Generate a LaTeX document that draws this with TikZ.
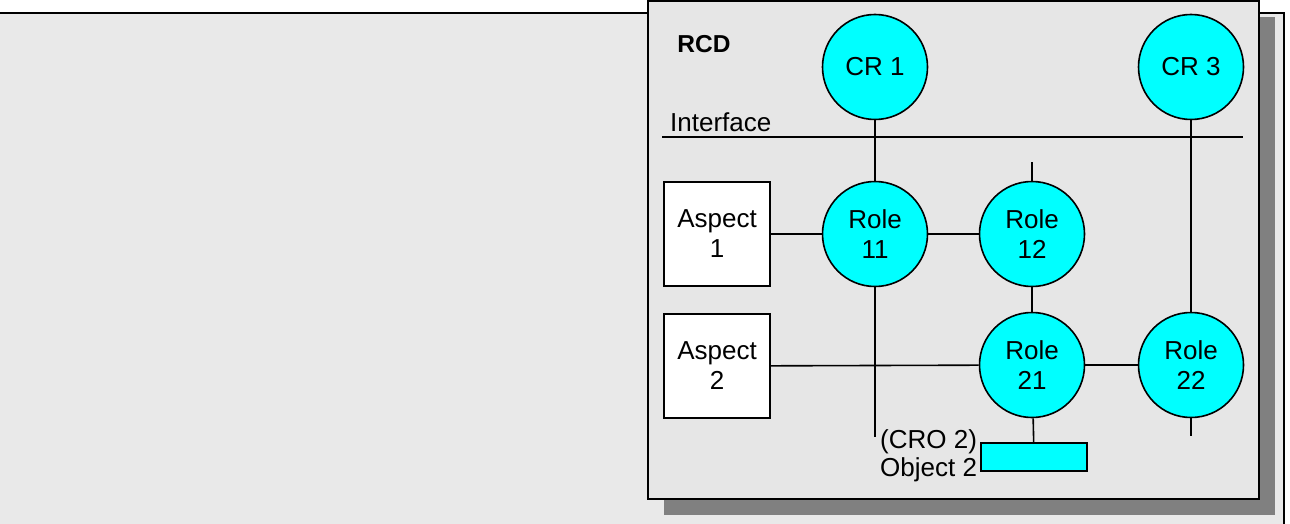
\documentclass[tikz,border=0pt]{standalone}
\usepackage{fontspec}
\setmainfont{Liberation Sans}
\definecolor{outerbg}{RGB}{233,233,233}
\definecolor{rcdbg}{RGB}{230,230,230}
\definecolor{shadowgray}{RGB}{128,128,128}
\definecolor{rolecyan}{RGB}{0,255,255}
\newcommand{\lbl}{\fontsize{26}{30}\selectfont}
\begin{document}
\begin{tikzpicture}[x=1pt,y=-1pt,
  frame/.style={draw=black,line width=2pt},
  role/.style={circle,draw=black,line width=1.6pt,fill=rolecyan,
    minimum size=105pt,inner sep=0pt,align=center,font=\lbl},
  aspect/.style={rectangle,draw=black,line width=1.6pt,fill=white,
    minimum width=106pt,minimum height=104pt,inner sep=0pt,align=center,font=\lbl},
  objbox/.style={rectangle,draw=black,line width=1.6pt,fill=rolecyan,
    minimum width=106pt,minimum height=28pt,inner sep=0pt},
  link/.style={draw=black,line width=1.6pt}]

\useasboundingbox (0,0) rectangle (1290,524);

% background panel
\fill[outerbg] (-5,13) rectangle (1284,540);
\draw[frame] (-5,13) -- (1284,13) -- (1284,540);

% RCD box with drop shadow
\fill[shadowgray] (664,17) rectangle (1275,515);
\draw[frame,fill=rcdbg] (648,1) rectangle (1259,499);

\node[font=\bfseries\fontsize{24.5}{30}\selectfont,inner sep=0pt] (rcd) at (704,44) {RCD};

% interface line
\node[font=\lbl,anchor=west,inner sep=0pt] (iface) at (670,122) {Interface};
\coordinate (ifL) at (662,137);
\coordinate (ifR) at (1243,137);
\draw[link] (ifL) -- (ifR);

% component roles
\node[role] (cr1) at (875,67) {CR 1};
\node[role] (cr3) at (1191,67) {CR 3};

% roles
\node[role] (role11) at (875,234) {Role\\11};
\node[role] (role12) at (1032,234) {Role\\12};
\node[role] (role21) at (1032,365) {Role\\21};
\node[role] (role22) at (1191,365) {Role\\22};

% aspects
\node[aspect] (asp1) at (717,234) {Aspect\\1};
\node[aspect] (asp2) at (717,366) {Aspect\\2};

% object
\node[objbox] (obj) at (1034,457) {};
\node[font=\fontsize{26}{28}\selectfont,align=left,anchor=west,inner sep=0pt] (objlbl) at (880,456) {(CRO 2)\\Object 2};

% free line ends
\coordinate (r12top) at (1032,162);
\coordinate (r11end) at (875,437);
\coordinate (r22end) at (1191,436);

% connectors
\draw[link] (cr1) -- (role11);
\draw[link] (cr3) -- (role22);
\draw[link] (asp1) -- (role11);
\draw[link] (role11) -- (role12);
\draw[link] (role12) -- (role21);
\draw[link] (asp2) -- (role21);
\draw[link] (role21) -- (role22);
\draw[link] (role21) -- (obj);
\draw[link] (r12top) -- (role12);
\draw[link] (role11) -- (r11end);
\draw[link] (role22) -- (r22end);
\end{tikzpicture}
\end{document}
